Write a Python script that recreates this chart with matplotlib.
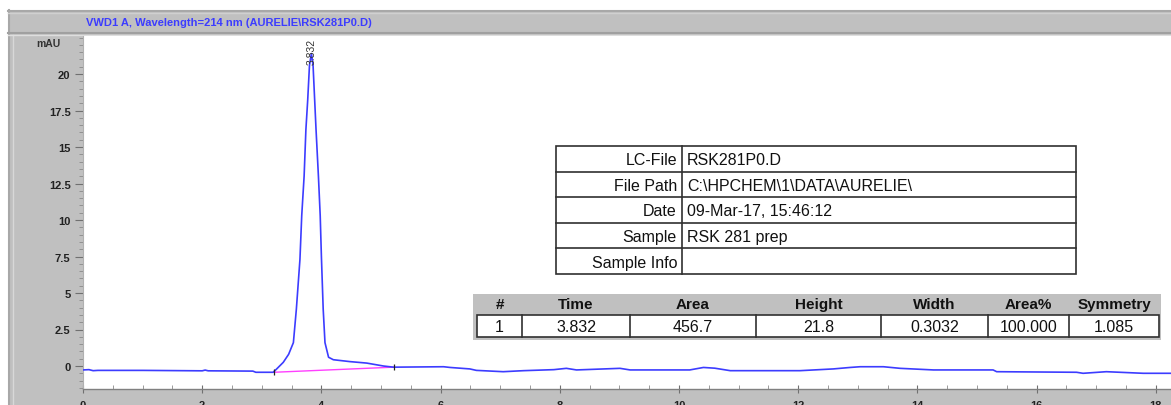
import matplotlib
matplotlib.use('Agg')
import matplotlib.pyplot as plt
from matplotlib.patches import Rectangle
from matplotlib.ticker import MultipleLocator, FixedLocator
import numpy as np

# chromatogram trace (min, mAU)
time_min = [0.0, 0.1, 0.17, 0.25, 1.0, 2.0, 2.05, 2.1, 2.85, 2.9, 3.19, 3.25,
            3.36, 3.45, 3.53, 3.58, 3.64, 3.67, 3.71, 3.74, 3.77, 3.80, 3.832,
            3.86, 3.91, 3.95, 3.98, 4.00, 4.03, 4.06, 4.12, 4.2, 4.48, 4.76,
            5.04, 5.21, 6.05, 6.16, 6.49, 6.6, 7.05, 7.39, 7.9, 8.11, 8.28,
            9.01, 9.18, 10.18, 10.41, 10.6, 10.86, 12.03, 12.59, 12.87, 13.04,
            13.43, 13.71, 14.27, 15.27, 15.33, 16.67, 16.78, 17.17, 17.79, 18.26]
signal_mau = [-0.27, -0.25, -0.32, -0.3, -0.3, -0.33, -0.28, -0.33, -0.35, -0.43,
              -0.43, -0.2, 0.25, 0.8, 1.6, 3.9, 7.3, 10.3, 13.0, 16.2, 18.2,
              20.6, 21.4, 20.6, 16.2, 13.0, 10.3, 7.5, 3.9, 1.6, 0.6, 0.43,
              0.3, 0.2, 0.0, -0.08, -0.05, -0.1, -0.2, -0.3, -0.39, -0.32,
              -0.25, -0.16, -0.27, -0.16, -0.27, -0.27, -0.1, -0.15, -0.32,
              -0.32, -0.2, -0.1, -0.05, -0.05, -0.16, -0.27, -0.27, -0.39,
              -0.43, -0.5, -0.39, -0.5, -0.5]

# integration baseline under the peak
base_t = [3.2, 5.21]
base_v = [-0.43, -0.08]
peak_rt = 3.832

y_ticks = [0, 2.5, 5, 7.5, 10, 12.5, 15, 17.5, 20]

title_txt = 'VWD1 A, Wavelength=214 nm (AURELIE\\RSK281P0.D)'

info_labels = ['LC-File', 'File Path', 'Date', 'Sample', 'Sample Info']
info_values = ['RSK281P0.D', 'C:\\HPCHEM\\1\\DATA\\AURELIE\\',
               '09-Mar-17, 15:46:12', 'RSK 281 prep', '']

peak_headers = ['#', 'Time', 'Area', 'Height', 'Width', 'Area%', 'Symmetry']
peak_values = ['1', '3.832', '456.7', '21.8', '0.3032', '100.000', '1.085']

W, H = 1171, 406
GRAY = '#c0c0c0'
BLUE = '#3c3cff'
FONT = ['Liberation Sans', 'DejaVu Sans']

fig = plt.figure(figsize=(W / 100, H / 100), dpi=100)
fig.patch.set_facecolor('white')

# window frame behind everything, in pixel units
bg = fig.add_axes([0, 0, 1, 1], zorder=0)
bg.set_xlim(0, W)
bg.set_ylim(H, 0)
bg.axis('off')
bg.add_patch(Rectangle((8, 11), W - 8, H - 11, facecolor=GRAY, edgecolor='none'))
bg.plot([9, 9], [11, H], color='#a8a8a8', lw=1.5)
bg.plot([13, 13], [36, H], color='#d8d8d8', lw=1.0)
bg.plot([8, W], [12, 12], color='#a8a8a8', lw=1.5)
bg.plot([8, W], [14, 14], color='#d0d0d0', lw=1.0)
bg.plot([8, W], [33.5, 33.5], color='#a0a0a0', lw=1.5)
bg.plot([8, W], [35.5, 35.5], color='#dedede', lw=1.0)
bg.text(86, 23, title_txt, color=BLUE, fontsize=8, fontweight='bold',
        family=FONT, ha='left', va='center')
bg.text(48, 44, 'mAU', color='#333333', fontsize=7.5, fontweight='bold',
        family=FONT, ha='center', va='center')

# signal plot
x_max = (W - 83) / 59.6
ax = fig.add_axes([83 / W, 1 - 390 / H, (W - 83) / W, (390 - 37) / H], zorder=1)
ax.set_facecolor('white')
ax.plot(time_min, signal_mau, color=BLUE, lw=1.2, zorder=3)
ax.plot(base_t, base_v, color='#ff40ff', lw=1.0, zorder=2)
ax.plot(base_t, base_v, ls='none', marker='|', ms=4, mew=0.9, color='#222222', zorder=4)
y_top = (367 - 37) / 14.6
ax.text(peak_rt, y_top - 0.1, f'{peak_rt:.3f}', rotation=90, ha='center',
        va='top', fontsize=7.5, color='#333333', family=FONT, zorder=5)
ax.set_xlim(0, x_max)
ax.set_ylim((367 - 390) / 14.6, y_top)

ax.xaxis.set_major_locator(MultipleLocator(2))
ax.xaxis.set_minor_locator(MultipleLocator(0.5))
ax.yaxis.set_major_locator(FixedLocator(y_ticks))
ax.yaxis.set_minor_locator(MultipleLocator(0.5))
ax.yaxis.set_major_formatter(plt.FuncFormatter(lambda v, p: f'{v:g}'))
ax.tick_params(axis='y', which='major', direction='out', length=6, width=0.8,
               color='#707070', labelsize=8, labelcolor='#222222', pad=3)
ax.tick_params(axis='y', which='minor', direction='out', length=3, width=0.6,
               color='#8a8a8a')
ax.tick_params(axis='x', which='major', direction='inout', length=6, width=0.8,
               color='#707070', labelsize=8, labelcolor='#222222', pad=5)
ax.tick_params(axis='x', which='minor', direction='in', length=3, width=0.6,
               color='#8a8a8a')
for lbl in ax.get_xticklabels() + ax.get_yticklabels():
    lbl.set_family(FONT)
    lbl.set_fontweight('bold')
for s in ['top', 'right']:
    ax.spines[s].set_visible(False)
ax.spines['left'].set_color('#b0b0b0')
ax.spines['bottom'].set_color('#808080')
ax.spines['bottom'].set_linewidth(1.0)

# overlay for the report tables
ov = fig.add_axes([0, 0, 1, 1], zorder=2)
ov.set_xlim(0, W)
ov.set_ylim(H, 0)
ov.axis('off')
ov.patch.set_alpha(0)

# sample information table
ix0, ix1, idiv, iy0, row_h = 556, 1076, 682, 147, 25.6
ov.add_patch(Rectangle((ix0, iy0), ix1 - ix0, row_h * len(info_labels),
                       facecolor='white', edgecolor='#303030', lw=1.2))
ov.plot([idiv, idiv], [iy0, iy0 + row_h * len(info_labels)], color='#303030', lw=1.2)
for i, (lab, val) in enumerate(zip(info_labels, info_values)):
    yc = iy0 + row_h * (i + 0.5)
    if i > 0:
        ov.plot([ix0, ix1], [iy0 + row_h * i] * 2, color='#303030', lw=1.2)
    ov.text(idiv - 5, yc + 1, lab, ha='right', va='center', fontsize=11.5,
            family=FONT, color='#111111')
    ov.text(idiv + 5, yc + 1, val, ha='left', va='center', fontsize=11.5,
            family=FONT, color='#111111')

# peak results table
col_edges = [477, 522, 630, 756, 881, 988, 1069, 1159]
ov.add_patch(Rectangle((473, 295), 1161 - 473, 341 - 295, facecolor=GRAY,
                       edgecolor='none'))
ov.add_patch(Rectangle((col_edges[0], 316), col_edges[-1] - col_edges[0], 22,
                       facecolor='white', edgecolor='#303030', lw=1.2))
for j, (hdr, val) in enumerate(zip(peak_headers, peak_values)):
    xc = (col_edges[j] + col_edges[j + 1]) / 2
    if j > 0:
        ov.plot([col_edges[j]] * 2, [316, 338], color='#303030', lw=1.2)
    ov.text(xc, 305, hdr, ha='center', va='center', fontsize=11,
            fontweight='bold', family=FONT, color='#111111')
    ov.text(xc, 328, val, ha='center', va='center', fontsize=11.5,
            family=FONT, color='#111111')

fig.savefig('out.png', dpi=100)
